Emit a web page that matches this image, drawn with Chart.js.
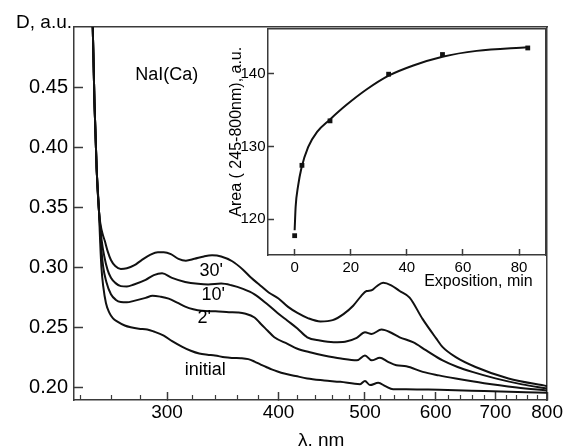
<!DOCTYPE html>
<html>
<head>
<meta charset="utf-8">
<script src="https://cdn.jsdelivr.net/npm/chart.js@4.4.1/dist/chart.umd.min.js"></script>
<style>
  html, body { margin: 0; padding: 0; background: #fff; }
  #wrap { position: relative; width: 572px; height: 446px; overflow: hidden; }
  #main { position: absolute; left: 0; top: 0; }
  #inset { position: absolute; left: 220px; top: 0; }
</style>
</head>
<body>
<div id="wrap">
  <canvas id="main" width="572" height="446"></canvas>
  <canvas id="inset" width="352" height="300"></canvas>
</div>
<script>
// Absorption spectra of NaI(Ca) (wavelength in nm, D in a.u.)
const nmInitial = [247.0, 247.7, 248.8, 250.2, 251.8, 252.2, 253.3, 254.5, 256.3, 258.5, 261, 264, 269, 273.2, 279, 285.1, 290, 297.5, 304, 311.7, 319, 326, 333, 339.5, 348.3, 356, 363, 370, 376, 382, 387, 393, 399, 406, 418, 430.8, 450, 469.1, 493.7, 500, 506.4, 517.4, 527, 537.6, 556, 580, 605.6, 680, 800];
const dInitial = [0.52, 0.4995, 0.437, 0.382, 0.345, 0.330, 0.300, 0.284, 0.270, 0.2623, 0.2575, 0.2547, 0.2515, 0.2500, 0.2488, 0.2482, 0.2465, 0.2431, 0.2385, 0.234, 0.2305, 0.2282, 0.2272, 0.2266, 0.2250, 0.2245, 0.2243, 0.2235, 0.2215, 0.2190, 0.2172, 0.2150, 0.2132, 0.2115, 0.2095, 0.2074, 0.2058, 0.2046, 0.2027, 0.2054, 0.2019, 0.2038, 0.2010, 0.1984, 0.1984, 0.1982, 0.1980, 0.1970, 0.1955];

const nm2 = [247.0, 247.7, 248.8, 250.2, 251.8, 252.3, 253.1, 254.5, 256.5, 259.6, 263, 266.3, 270.5, 275.5, 283.9, 289, 295, 301.3, 308, 314.4, 321, 328.1, 340, 352, 360.3, 366.5, 376, 382, 389, 395.7, 409.4, 420, 435, 449.6, 470, 489.5, 500, 508.6, 519.6, 530, 542.2, 556.2, 580.4, 605, 632, 680, 740, 800];
const d2 = [0.52, 0.4995, 0.437, 0.382, 0.345, 0.335, 0.318, 0.300, 0.288, 0.2775, 0.2728, 0.2711, 0.2708, 0.272, 0.2745, 0.2763, 0.2755, 0.2739, 0.2705, 0.2672, 0.265, 0.2637, 0.2633, 0.2626, 0.2623, 0.2615, 0.2582, 0.2530, 0.2472, 0.2417, 0.2363, 0.2322, 0.2290, 0.2266, 0.2240, 0.2225, 0.2266, 0.2225, 0.2247, 0.2215, 0.2184, 0.2176, 0.2129, 0.2100, 0.2074, 0.2035, 0.2000, 0.1975];

const nm10 = [247.0, 247.7, 248.8, 250.2, 251.8, 252.5, 253.5, 255.2, 257.3, 259.6, 262.5, 266.3, 270.5, 275.5, 283.9, 290, 296.2, 303.9, 314.4, 325, 333.7, 345, 354.2, 365, 376, 389, 399, 409.4, 420, 430.8, 445, 461.2, 475, 489.5, 500, 508.6, 521.8, 535, 546.8, 565.8, 585, 610.9, 635, 659.5, 700, 750, 800];
const d10 = [0.52, 0.4995, 0.437, 0.382, 0.345, 0.335, 0.322, 0.309, 0.298, 0.2912, 0.287, 0.2843, 0.284, 0.2857, 0.2895, 0.2935, 0.295, 0.2912, 0.2878, 0.2862, 0.2857, 0.2864, 0.2850, 0.282, 0.2775, 0.269, 0.262, 0.2555, 0.249, 0.2417, 0.2390, 0.2376, 0.238, 0.2412, 0.2458, 0.2445, 0.2481, 0.2455, 0.2417, 0.2376, 0.231, 0.2225, 0.2170, 0.2129, 0.2075, 0.2025, 0.199];

const nm30 = [247.0, 247.7, 248.8, 250.2, 251.8, 252.8, 254.0, 255.5, 257.5, 259.6, 262.5, 266.3, 270.5, 275.5, 281, 287.5, 293, 297.5, 303, 309, 315, 322, 330, 337, 345, 355, 365, 372.8, 380, 390, 400, 410, 420, 432, 445.7, 460, 473, 485, 495, 502, 508.6, 515, 524, 535, 546.8, 561, 580, 600.5, 611, 632, 665, 724, 800];
const d30 = [0.52, 0.4995, 0.437, 0.382, 0.345, 0.335, 0.328, 0.322, 0.313, 0.306, 0.301, 0.2986, 0.2992, 0.3015, 0.306, 0.3105, 0.3125, 0.3125, 0.311, 0.307, 0.3055, 0.307, 0.309, 0.3099, 0.309, 0.305, 0.298, 0.2912, 0.286, 0.279, 0.274, 0.267, 0.262, 0.2575, 0.2549, 0.256, 0.261, 0.268, 0.276, 0.2802, 0.2808, 0.284, 0.2871, 0.285, 0.2802, 0.2747, 0.257, 0.241, 0.2335, 0.2252, 0.217, 0.2074, 0.201];

// Inset: integrated area vs exposition time
const expTime = [0, 2.6, 12.6, 33.5, 52.7, 83.1];
const expArea = [117.75, 127.4, 133.5, 139.9, 142.6, 143.5];
const fitTime = [0, 0.35, 1.2, 2.4, 4.8, 8.0, 12.6, 18.5, 25.6, 33.5, 42.3, 52.7, 64.9, 83.1];
const fitArea = [118.5, 121.7, 124.5, 127.0, 129.9, 132.0, 133.7, 135.7, 137.8, 139.7, 141.1, 142.3, 143.1, 143.6];

// Tick values
const majorNm = [300, 400, 500, 600, 700, 800];
const minorNm = [240, 260, 280, 320, 340, 360, 380, 420, 440, 460, 480, 520, 540, 560, 580, 620, 640, 660, 680, 720, 740, 760, 780];
const dTicks = [0.20, 0.25, 0.30, 0.35, 0.40, 0.45];
const timeTicks = [0, 20, 40, 60, 80];
const areaTicks = [120, 130, 140];

const FONT = '"Liberation Sans", Arial, Helvetica, sans-serif';
const INK = '#111';
const AXIS = '#3a3a3a';

function toPoints(xs, ys) {
  return xs.map((x, i) => ({ x: x, y: ys[i] }));
}

function curve(label, xs, ys) {
  return {
    label: label,
    data: toPoints(xs, ys),
    borderColor: INK,
    borderWidth: 2,
    pointRadius: 0,
    fill: false,
    cubicInterpolationMode: 'monotone'
  };
}

function fixTicks(values) {
  return function(axis) {
    axis.ticks = values.map(v => ({ value: v }));
  };
}

// Empty axis used only to draw a frame line on top / right
function frameAxis(position) {
  return {
    type: 'linear',
    position: position,
    min: 0, max: 1,
    afterFit: s => { if (s.isHorizontal()) s.height = 0; else s.width = 0; },
    border: { display: true, color: AXIS, width: 1.5 },
    grid: { drawOnChartArea: false, drawTicks: false },
    ticks: { display: false }
  };
}

// Text inside the main plot
const plotText = {
  id: 'plotText',
  afterDraw(chart) {
    const { ctx, chartArea, scales } = chart;
    const notes = [
      { text: 'NaI(Ca)', nm: 299.8, d: 0.46 },
      { text: "30'", nm: 336.3, d: 0.2967 },
      { text: "10'", nm: 338.0, d: 0.2769 },
      { text: "2'", nm: 330.3, d: 0.2580 },
      { text: 'initial', nm: 331.2, d: 0.2143 }
    ];
    ctx.save();
    ctx.fillStyle = '#000';
    ctx.textBaseline = 'middle';
    ctx.textAlign = 'right';
    ctx.font = '19px ' + FONT;
    ctx.fillText('D, a.u.', chartArea.left - 2, chartArea.top - 4);
    ctx.textAlign = 'center';
    ctx.font = '18px ' + FONT;
    notes.forEach(n => {
      ctx.fillText(n.text, scales.x.getPixelForValue(n.nm), scales.y.getPixelForValue(n.d));
    });
    ctx.restore();
  }
};

new Chart(document.getElementById('main'), {
  type: 'line',
  data: {
    datasets: [
      curve('initial', nmInitial, dInitial),
      curve("2'", nm2, d2),
      curve("10'", nm10, d10),
      curve("30'", nm30, d30)
    ]
  },
  options: {
    responsive: false,
    animation: false,
    layout: { padding: { top: 24, right: 20, left: 0, bottom: 0 } },
    plugins: { legend: { display: false }, tooltip: { enabled: false } },
    scales: {
      x: {
        type: 'logarithmic',
        position: 'bottom',
        weight: 1,
        min: 236, max: 800,
        bounds: 'data',
        afterBuildTicks: fixTicks(majorNm),
        afterFit: s => { s.height = 46; },
        border: { display: true, color: AXIS, width: 1.5 },
        grid: { drawOnChartArea: false, drawTicks: true, tickLength: -8, tickColor: AXIS, tickWidth: 1.5 },
        ticks: {
          autoSkip: false, maxRotation: 0, padding: 9, color: '#000',
          font: { family: FONT, size: 19 },
          callback: v => String(v)
        },
        title: {
          display: true, text: '    \u03bb, nm', color: '#000',
          font: { family: FONT, size: 19 },
          padding: { top: 0, bottom: -6 }
        }
      },
      xMinor: {
        type: 'logarithmic',
        position: 'bottom',
        weight: 0,
        min: 236, max: 800,
        bounds: 'data',
        afterBuildTicks: fixTicks(minorNm),
        afterFit: s => { s.height = 0; },
        border: { display: false },
        grid: { drawOnChartArea: false, drawTicks: true, tickLength: -5, tickColor: AXIS, tickWidth: 1.2 },
        ticks: { display: false }
      },
      y: {
        type: 'linear',
        position: 'left',
        min: 0.1895, max: 0.50,
        afterBuildTicks: fixTicks(dTicks),
        afterFit: s => { s.width = 74; },
        border: { display: true, color: AXIS, width: 1.5 },
        grid: { drawOnChartArea: false, drawTicks: true, tickLength: -9, tickColor: AXIS, tickWidth: 1.5 },
        ticks: {
          padding: 15, color: '#000',
          font: { family: FONT, size: 20 },
          callback: v => v.toFixed(2)
        }
      },
      xTop: frameAxis('top'),
      yRight: frameAxis('right')
    }
  },
  plugins: [plotText]
});

new Chart(document.getElementById('inset'), {
  type: 'line',
  data: {
    datasets: [
      {
        label: 'fit',
        data: toPoints(fitTime, fitArea),
        borderColor: INK,
        borderWidth: 2,
        pointRadius: 0,
        fill: false,
        cubicInterpolationMode: 'monotone'
      },
      {
        label: 'measured',
        data: toPoints(expTime, expArea),
        showLine: false,
        pointStyle: 'rect',
        pointRadius: 3.4,
        pointBackgroundColor: INK,
        pointBorderColor: INK,
        pointBorderWidth: 0
      }
    ]
  },
  options: {
    responsive: false,
    animation: false,
    layout: { padding: { top: 29, right: 26, left: 0, bottom: 0 } },
    plugins: { legend: { display: false }, tooltip: { enabled: false } },
    scales: {
      x: {
        type: 'linear',
        position: 'bottom',
        min: -9.5, max: 89.6,
        afterBuildTicks: fixTicks(timeTicks),
        afterFit: s => { s.height = 45; },
        border: { display: true, color: AXIS, width: 1.5 },
        grid: { drawOnChartArea: false, drawTicks: true, tickLength: -6, tickColor: AXIS, tickWidth: 1.5 },
        ticks: {
          autoSkip: false, maxRotation: 0, padding: 10, color: '#000',
          font: { family: FONT, size: 15 }
        },
        title: {
          display: true, align: 'end', text: 'Exposition, min   ', color: '#000',
          font: { family: FONT, size: 16 },
          padding: { top: 0, bottom: 9 }
        }
      },
      y: {
        type: 'linear',
        position: 'left',
        min: 115.1, max: 146.1,
        afterBuildTicks: fixTicks(areaTicks),
        afterFit: s => { s.width = 48; },
        border: { display: true, color: AXIS, width: 1.5 },
        grid: { drawOnChartArea: false, drawTicks: true, tickLength: -6, tickColor: AXIS, tickWidth: 1.5 },
        ticks: {
          padding: 8.5, color: '#000',
          font: { family: FONT, size: 15 }
        },
        title: {
          display: true, align: 'end', text: 'Area ( 245-800nm), a.u.    ', color: '#000',
          font: { family: FONT, size: 16 },
          padding: { top: 6.5, bottom: 0 }
        }
      },
      xTop: frameAxis('top'),
      yRight: frameAxis('right')
    }
  }
});
</script>
</body>
</html>
